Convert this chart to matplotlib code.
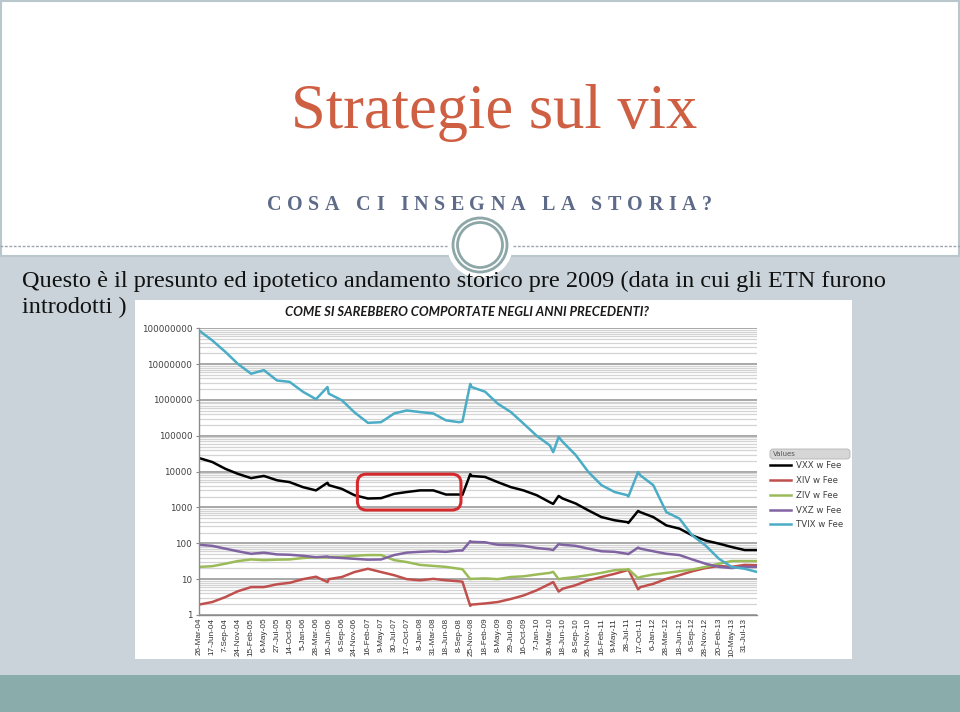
import matplotlib
matplotlib.use('Agg')
import matplotlib.pyplot as plt
import matplotlib.dates as mdates
import pandas as pd
from matplotlib.patches import Rectangle, Circle, FancyBboxPatch
from matplotlib.ticker import LogLocator, FuncFormatter, NullFormatter

# --- dati (scala logaritmica) ---
dates = [
    '2004-03-26', '2004-06-17', '2004-09-07', '2004-11-24', '2005-02-15',
    '2005-05-06', '2005-07-27', '2005-10-14', '2006-01-05', '2006-03-28',
    '2006-06-08', '2006-06-16', '2006-09-06', '2006-11-24', '2007-02-16',
    '2007-05-09', '2007-07-30', '2007-10-17', '2008-01-08', '2008-03-31',
    '2008-06-18', '2008-09-08', '2008-09-29', '2008-11-17', '2008-11-25',
    '2009-02-18', '2009-05-08', '2009-07-29', '2009-10-16', '2010-01-07',
    '2010-03-30', '2010-04-20', '2010-05-24', '2010-06-18', '2010-09-08',
    '2010-11-26', '2011-02-16', '2011-05-09', '2011-07-28', '2011-08-03',
    '2011-10-03', '2011-10-17', '2012-01-06', '2012-03-28', '2012-06-18',
    '2012-09-06', '2012-11-28', '2013-02-20', '2013-05-10', '2013-07-31',
    '2013-10-14',
]

vxx = [24000, 18600, 12000, 8700, 6600, 7600, 5750, 5100, 3700, 3000,
       4900, 4200, 3300, 2200, 1780, 1820, 2400, 2700, 3000, 3000,
       2300, 2300, 2240, 8500, 7600, 7100, 5100, 3700, 3000, 2200,
       1400, 1260, 2100, 1780, 1290, 830, 540, 440, 390, 370,
       800, 740, 540, 316, 257, 166, 120, 98, 79, 65,
       65]

xiv = [1.95, 2.3, 3.16, 4.6, 6.0, 6.0, 7.2, 7.9, 10, 11.7,
       8.3, 10, 11.5, 15.8, 19.5, 15.8, 12.9, 10, 9.3, 10.2,
       9.3, 8.7, 8.5, 1.8, 1.95, 2.1, 2.3, 2.8, 3.5, 4.9,
       7.4, 8.3, 4.5, 5.4, 6.8, 9.3, 11.5, 14.1, 17.8, 18.6,
       5.2, 6.0, 7.4, 10.2, 12.9, 16.6, 20.4, 23.4, 22, 25,
       24.5]

ziv = [22, 23, 27, 32, 35.5, 34, 35, 35.5, 39, 41,
       40, 42, 42, 45, 47, 47, 34, 30, 25, 23.4,
       22, 19.5, 19, 10, 10.2, 10.5, 10, 11.5, 12, 13.5,
       15, 16, 10, 10.5, 11.5, 13, 15, 17.8, 18.6, 19,
       10.7, 11.5, 13.5, 15, 16.6, 18.6, 22, 27, 32, 32,
       32]

vxz = [91, 85, 71, 60, 51, 55, 49, 48, 45, 41,
       43, 41, 39, 37, 35, 35.5, 47, 55, 58, 60,
       58, 63, 63, 115, 110, 107, 91, 89, 85, 74,
       68, 65, 95, 91, 85, 71, 60, 58, 51, 50,
       76, 71, 60, 51, 47, 35.5, 27, 22, 20.4, 22,
       22]

tvix = [8.7e7, 4.6e7, 2.2e7, 1.02e7, 5.4e6, 6.8e6, 3.5e6, 3.2e6, 1.7e6, 1.05e6,
        2.3e6, 1.5e6, 9.8e5, 4.5e5, 2.3e5, 2.4e5, 4.2e5, 5.1e5, 4.6e5, 4.2e5,
        2.7e5, 2.4e5, 2.5e5, 2.8e6, 2.3e6, 1.7e6, 7.9e5, 4.6e5, 2.2e5, 1.0e5,
        5.4e4, 3.5e4, 9.3e4, 6.8e4, 2.9e4, 9800, 4200, 2700, 2200, 2000,
        9800, 7900, 4200, 740, 490, 166, 87, 37, 22, 19.5,
        16]

series_names = ['VXX w Fee', 'XIV w Fee', 'ZIV w Fee', 'VXZ w Fee', 'TVIX w Fee']
series_colors = ['#000000', '#c0504d', '#9bbb59', '#8064a2', '#4bacc6']

tick_labels = [
    '26-Mar-04', '17-Jun-04', '7-Sep-04', '24-Nov-04', '15-Feb-05', '6-May-05',
    '27-Jul-05', '14-Oct-05', '5-Jan-06', '28-Mar-06', '16-Jun-06', '6-Sep-06',
    '24-Nov-06', '16-Feb-07', '9-May-07', '30-Jul-07', '17-Oct-07', '8-Jan-08',
    '31-Mar-08', '18-Jun-08', '8-Sep-08', '25-Nov-08', '18-Feb-09', '8-May-09',
    '29-Jul-09', '16-Oct-09', '7-Jan-10', '30-Mar-10', '18-Jun-10', '8-Sep-10',
    '26-Nov-10', '16-Feb-11', '9-May-11', '28-Jul-11', '17-Oct-11', '6-Jan-12',
    '28-Mar-12', '18-Jun-12', '6-Sep-12', '28-Nov-12', '20-Feb-13', '10-May-13',
    '31-Jul-13',
]
y_ticks = [1, 10, 100, 1000, 10000, 100000, 1000000, 10000000, 100000000]

# periodo evidenziato col riquadro rosso
box_dates = ['2006-12-12', '2008-09-20']
box_values = [850, 8500]

x = pd.to_datetime(dates)
ticks = pd.to_datetime(tick_labels, format='%d-%b-%y')

fig = plt.figure(figsize=(9.6, 7.12), dpi=100)

# sfondo della slide in pixel
bg = fig.add_axes([0, 0, 1, 1])
bg.set_xlim(0, 960)
bg.set_ylim(712, 0)
bg.axis('off')
r = fig.canvas.get_renderer()

bg.add_patch(Rectangle((0, 0), 960, 712, fc='white', ec='none'))
bg.add_patch(Rectangle((0, 256), 960, 419, fc='#c9d3d9', ec='none'))
bg.add_patch(Rectangle((0, 675), 960, 37, fc='#8aadab', ec='none'))
bg.add_patch(Rectangle((1, 1), 958, 255, fc='none', ec='#b9c7cd', lw=1.5))
bg.plot([0, 447], [246, 246], color='#9aa4aa', lw=1, ls=(0, (2, 1.2)))
bg.plot([513, 960], [246, 246], color='#9aa4aa', lw=1, ls=(0, (2, 1.2)))
bg.add_patch(Circle((480, 245), 33, fc='white', ec='none'))
bg.add_patch(Circle((480, 245), 27, fc='none', ec='#8da6a8', lw=2))
bg.add_patch(Circle((480, 245), 22.5, fc='none', ec='#8da6a8', lw=2))

bg.text(494, 128, 'Strategie sul vix', fontsize=45, family='Liberation Serif',
        color='#cf5f43', ha='center', va='baseline')


def tracked(s, x0, x1, y, **kw):
    widths = []
    for ch in s:
        if ch == ' ':
            a = bg.text(0, 0, 'II', **kw)
            b = bg.text(0, 0, 'I I', **kw)
            w = b.get_window_extent(r).width - a.get_window_extent(r).width
            a.remove()
            b.remove()
        else:
            t = bg.text(0, 0, ch, **kw)
            w = t.get_window_extent(r).width
            t.remove()
        widths.append(w)
    gap = (x1 - x0 - sum(widths)) / (len(s) - 1)
    pos = x0
    for ch, w in zip(s, widths):
        if ch != ' ':
            bg.text(pos, y, ch, ha='left', va='baseline', **kw)
        pos += w + gap


tracked('COSA CI INSEGNA LA STORIA?', 267, 712, 210, fontsize=14.5,
        family='Liberation Serif', weight='bold', color='#5d6a88')


def fitted(px, py, s, width, size, **kw):
    t = bg.text(px, py, s, fontsize=size, **kw)
    w = t.get_window_extent(r).width
    t.set_fontsize(size * width / w)
    return t


body = fitted(22, 287, 'Questo è il presunto ed ipotetico andamento storico pre 2009 '
              '(data in cui gli ETN furono', 860, 17, family='Liberation Serif',
              color='#111111', va='baseline')
bg.text(22, 313, 'introdotti )', fontsize=body.get_fontsize(), family='Liberation Serif',
        color='#111111', va='baseline')

# riquadro bianco del grafico
bg.add_patch(Rectangle((135, 300), 717, 359, fc='white', ec='none'))
fitted(467, 316, 'COME SI SAREBBERO COMPORTATE NEGLI ANNI PRECEDENTI?', 361, 8.5,
       family='Lato', weight='bold', style='italic', color='#1a1a1a',
       ha='center', va='baseline')

ax = fig.add_axes([198.5 / 960, 1 - 615 / 712, (757 - 198.5) / 960, (615 - 328.3) / 712])
ax.set_facecolor('white')

serie = [vxx, xiv, ziv, vxz, tvix]
lines = []
for vals, name, col in zip(serie, series_names, series_colors):
    ln, = ax.plot(x, vals, color=col, lw=1.8, label=name, solid_joinstyle='round')
    lines.append(ln)

ax.set_yscale('log')
ax.set_ylim(1, 1e8)
ax.set_xlim(pd.Timestamp('2004-03-23'), pd.Timestamp('2013-10-16'))
ax.set_yticks(y_ticks)
ax.yaxis.set_major_formatter(FuncFormatter(lambda v, p: f'{v:.0f}'))
ax.yaxis.set_minor_locator(LogLocator(base=10, subs=range(2, 10)))
ax.yaxis.set_minor_formatter(NullFormatter())
ax.set_xticks(ticks)
ax.set_xticklabels(tick_labels, rotation=90, family='Liberation Sans',
                   fontsize=5.9, color='#303030')
for lab in ax.get_yticklabels():
    lab.set_family('DejaVu Sans')
    lab.set_fontsize(6.3)
    lab.set_color('#404040')
ax.tick_params(axis='x', length=0, pad=2)
ax.tick_params(axis='y', which='major', length=2.5, pad=2, color='#8c8c8c')
ax.tick_params(axis='y', which='minor', length=0)
ax.grid(True, axis='y', which='major', color='#a8a8a8', lw=1.4)
ax.grid(True, axis='y', which='minor', color='#d4d4d4', lw=0.9)
ax.set_axisbelow(True)
for s in ['top', 'right']:
    ax.spines[s].set_visible(False)
for s in ['left', 'bottom']:
    ax.spines[s].set_color('#8c8c8c')
    ax.spines[s].set_linewidth(1)

# riquadro rosso
corners = ax.transData.transform([[mdates.date2num(pd.Timestamp(box_dates[0])), box_values[0]],
                                  [mdates.date2num(pd.Timestamp(box_dates[1])), box_values[1]]])
corners = bg.transData.inverted().transform(corners)
bx0, bx1 = sorted(corners[:, 0])
by0, by1 = sorted(corners[:, 1])
fig.add_artist(FancyBboxPatch((bx0, by0), bx1 - bx0, by1 - by0,
                              boxstyle='round,pad=0,rounding_size=9', fc='none',
                              ec='#d42a2e', lw=2.2, transform=bg.transData, zorder=5))

# legenda
bg.add_patch(FancyBboxPatch((770, 449), 80, 10, boxstyle='round,pad=0,rounding_size=3',
                            fc='#d6d6d6', ec='#b5b5b5', lw=0.6))
bg.text(773, 454.5, 'Values', fontsize=5, color='#555555', va='center', family='DejaVu Sans')
leg = fig.legend(lines, series_names, loc='upper left',
                 bbox_to_anchor=(770 / 960, 1 - 461 / 712), frameon=False,
                 prop={'family': 'DejaVu Sans', 'size': 6.2}, handlelength=2.4,
                 handletextpad=0.6, labelspacing=0.68, borderpad=0, borderaxespad=0)
for t in leg.get_texts():
    t.set_color('#404040')

fig.savefig('out.png', dpi=100)
